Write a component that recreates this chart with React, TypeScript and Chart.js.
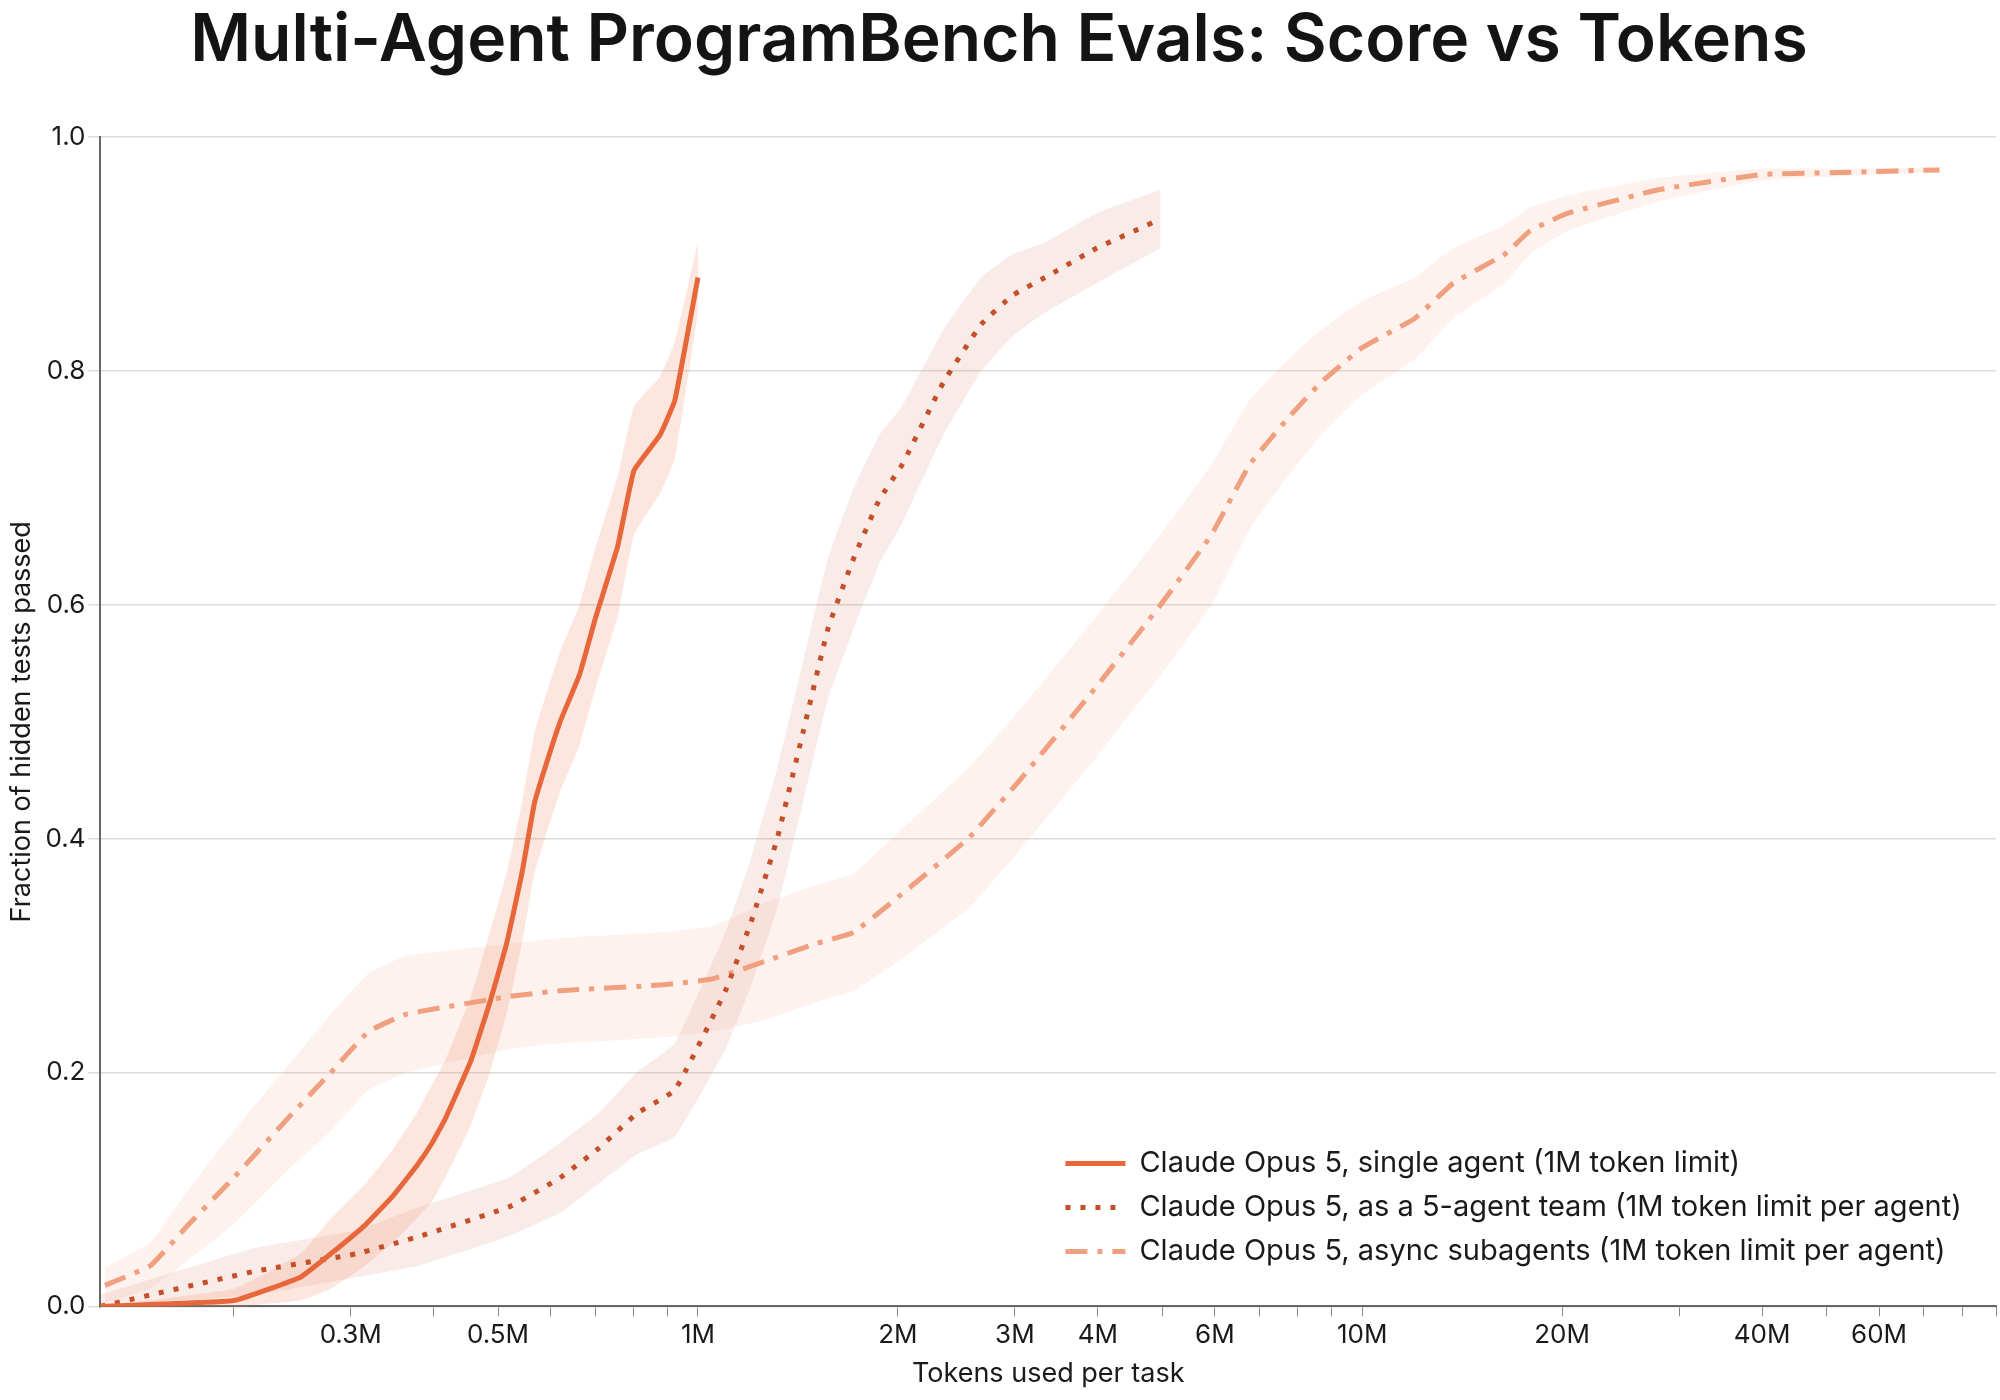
import React, { useEffect, useRef } from "react";
import { Chart, registerables } from "chart.js";
Chart.register(...registerables);

const singleX = [0.126, 0.2, 0.252, 0.28, 0.316, 0.348, 0.377, 0.398, 0.416, 0.455, 0.486, 0.515, 0.543, 0.567, 0.588, 0.62, 0.663, 0.702, 0.757, 0.801, 0.876, 0.923, 1.0];
const singleY = [0.0, 0.005, 0.025, 0.045, 0.07, 0.095, 0.12, 0.14, 0.16, 0.21, 0.26, 0.31, 0.37, 0.43, 0.46, 0.5, 0.54, 0.59, 0.65, 0.715, 0.745, 0.775, 0.88];
const singleBand = [0.0, 0.01, 0.02, 0.03, 0.035, 0.04, 0.045, 0.05, 0.05, 0.055, 0.06, 0.06, 0.06, 0.06, 0.06, 0.06, 0.06, 0.06, 0.06, 0.055, 0.05, 0.05, 0.03];

const teamX = [0.126, 0.215, 0.306, 0.381, 0.519, 0.62, 0.708, 0.809, 0.923, 1.1, 1.204, 1.316, 1.438, 1.57, 1.716, 1.875, 2.03, 2.34, 2.67, 2.98, 3.33, 3.98, 4.97];
const teamY = [0.0, 0.03, 0.045, 0.06, 0.085, 0.11, 0.135, 0.165, 0.185, 0.27, 0.33, 0.4, 0.49, 0.58, 0.64, 0.69, 0.72, 0.79, 0.84, 0.865, 0.88, 0.905, 0.93];
const teamBand = [0.01, 0.02, 0.02, 0.025, 0.025, 0.03, 0.03, 0.035, 0.04, 0.05, 0.055, 0.06, 0.06, 0.06, 0.06, 0.055, 0.05, 0.045, 0.04, 0.035, 0.03, 0.03, 0.025];

const asyncX = [0.128, 0.15, 0.171, 0.2, 0.245, 0.28, 0.319, 0.364, 0.519, 0.62, 0.884, 1.05, 1.26, 1.5, 1.716, 2.0, 2.55, 3.05, 3.98, 4.97, 5.93, 6.77, 7.74, 8.66, 10, 12.0, 13.7, 16.4, 17.9, 20.4, 27.9, 39.8, 54.4, 74];
const asyncY = [0.018, 0.035, 0.07, 0.11, 0.165, 0.2, 0.235, 0.25, 0.265, 0.27, 0.275, 0.28, 0.295, 0.31, 0.32, 0.35, 0.4, 0.45, 0.53, 0.6, 0.66, 0.72, 0.76, 0.79, 0.82, 0.845, 0.875, 0.9, 0.92, 0.935, 0.955, 0.968, 0.97, 0.972];
const asyncBand = [0.015, 0.02, 0.03, 0.04, 0.045, 0.05, 0.05, 0.05, 0.045, 0.045, 0.045, 0.045, 0.05, 0.05, 0.05, 0.055, 0.06, 0.06, 0.06, 0.06, 0.06, 0.055, 0.05, 0.045, 0.04, 0.035, 0.03, 0.025, 0.02, 0.015, 0.01, 0.005, 0.003, 0.002];

const xTickValues = [0.2, 0.3, 0.4, 0.5, 0.6, 0.7, 0.8, 0.9, 1, 2, 3, 4, 5, 6, 7, 8, 9, 10, 20, 30, 40, 50, 60, 70, 80, 90];
const xTickLabels: Record<string, string> = { "0.3": "0.3M", "0.5": "0.5M", "1": "1M", "2": "2M", "3": "3M", "4": "4M", "6": "6M", "10": "10M", "20": "20M", "40": "40M", "60": "60M" };
const yTicks = [0, 0.2, 0.4, 0.6, 0.8, 1.0];

const series = [
  { label: "Claude Opus 5, single agent (1M token limit)", x: singleX, y: singleY, band: singleBand, color: "#E8673A", dash: [] as number[], fill: "rgba(240,140,105,0.22)" },
  { label: "Claude Opus 5, as a 5-agent team (1M token limit per agent)", x: teamX, y: teamY, band: teamBand, color: "#C4502A", dash: [5, 10], fill: "rgba(220,150,125,0.18)" },
  { label: "Claude Opus 5, async subagents (1M token limit per agent)", x: asyncX, y: asyncY, band: asyncBand, color: "#F0A07E", dash: [22, 10, 5, 10], fill: "rgba(245,175,150,0.16)" },
];

const FONT = "Inter, 'Noto Sans', sans-serif";

export default function App() {
  const ref = useRef<HTMLCanvasElement>(null);
  useEffect(() => {
    document.body.style.margin = "0";
    const lines = series.map((s) => ({
      label: s.label,
      data: s.x.map((x, i) => ({ x, y: s.y[i] })),
      borderColor: s.color, borderWidth: 5, borderDash: s.dash, pointRadius: 0, fill: false, tension: 0.1,
    }));
    const bands: any[] = [];
    series.forEach((s) => {
      bands.push({ label: "", data: s.x.map((x, i) => ({ x, y: Math.min(1, s.y[i] + s.band[i]) })), borderWidth: 0, pointRadius: 0, fill: "+1", backgroundColor: s.fill, tension: 0.1 });
      bands.push({ label: "", data: s.x.map((x, i) => ({ x, y: Math.max(0, s.y[i] - s.band[i]) })), borderWidth: 0, pointRadius: 0, fill: false, tension: 0.1 });
    });
    const legendPlugin = {
      id: "customLegend",
      afterDatasetsDraw(chart: any) {
        const { ctx, chartArea } = chart;
        ctx.save();
        ctx.font = `29px ${FONT}`;
        ctx.textBaseline = "middle";
        series.forEach((s, i) => {
          const y = chartArea.bottom - 143 + i * 44;
          const x0 = chartArea.left + 965;
          ctx.strokeStyle = s.color; ctx.lineWidth = 5; ctx.setLineDash(s.dash);
          ctx.beginPath(); ctx.moveTo(x0, y); ctx.lineTo(x0 + 60, y); ctx.stroke();
          ctx.setLineDash([]);
          ctx.fillStyle = "#1a1a1a";
          ctx.fillText(s.label, x0 + 74, y);
        });
        ctx.restore();
      },
    };
    const chart = new Chart(ref.current!, {
      type: "line",
      data: { datasets: [...lines, ...bands] as any },
      plugins: [legendPlugin],
      options: {
        animation: false, responsive: false, maintainAspectRatio: false,
        layout: { padding: { left: 2, right: 4, top: 0, bottom: 6 } },
        plugins: {
          legend: { display: false }, tooltip: { enabled: false },
          title: { display: true, text: "Multi-Agent ProgramBench Evals: Score vs Tokens", font: { family: FONT, size: 66, weight: 600 as any }, color: "#141414", padding: { top: 2, bottom: 56 } },
        },
        scales: {
          x: {
            type: "logarithmic", min: 0.126, max: 90,
            afterBuildTicks: (ax: any) => { ax.ticks = xTickValues.map((v) => ({ value: v })); },
            ticks: { autoSkip: false, maxRotation: 0, color: "#1a1a1a", font: { family: FONT, size: 26 }, callback: (v: any) => xTickLabels[String(v)] ?? "" },
            grid: { display: true, drawOnChartArea: false, tickLength: 10, color: "#888" },
            border: { color: "#666", width: 2 },
            title: { display: true, text: "Tokens used per task", color: "#1a1a1a", font: { family: FONT, size: 27 } },
          },
          y: {
            min: 0, max: 1,
            afterBuildTicks: (ax: any) => { ax.ticks = yTicks.map((v) => ({ value: v })); },
            ticks: { color: "#1a1a1a", font: { family: FONT, size: 26 }, callback: (v: any) => Number(v).toFixed(1) },
            grid: { color: "#dddbd5", lineWidth: 1.5, tickLength: 12 },
            border: { color: "#666", width: 2 },
            title: { display: true, text: "Fraction of hidden tests passed", color: "#1a1a1a", font: { family: FONT, size: 27 }, padding: 4 },
          },
        },
      },
    });
    return () => chart.destroy();
  }, []);
  return (
    <div style={{ width: 2000, height: 1400, background: "#fff" }}>
      <canvas ref={ref} width={2000} height={1400} style={{ width: 2000, height: 1400 }} />
    </div>
  );
}
